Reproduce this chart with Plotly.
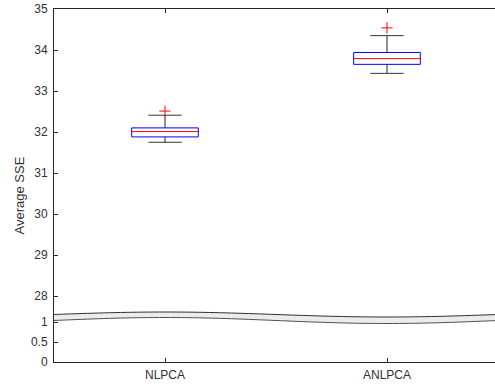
import numpy as np
import plotly.graph_objects as go

categories = ["NLPCA", "ANLPCA"]
positions = [1, 2]
q1 = [31.88, 33.65]
median = [32.01, 33.79]
q3 = [32.10, 33.94]
whisker_low = [31.75, 33.43]
whisker_high = [32.41, 34.35]
outliers = [[32.51], [34.54]]

upper_ticks = [28, 29, 30, 31, 32, 33, 34, 35]
lower_ticks = [0, 0.5, 1]
lower_labels = ["0", "0.5", "1"]

W, H = 495, 387
ML, MT, MB = 54, 9, 25
PH = H - MT - MB
split_px = 317
split = (H - MB - split_px) / PH

half_box = 0.15
half_cap = 0.075
AX = dict(xaxis="x2", yaxis="y2")

fig = go.Figure()
for i, p in enumerate(positions):
    fig.add_trace(go.Scatter(x=[p, p, None, p, p], y=[q3[i], whisker_high[i], None, q1[i], whisker_low[i]],
                             mode="lines", line=dict(color="#222222", width=1), showlegend=False, hoverinfo="skip", **AX))
    fig.add_trace(go.Scatter(x=[p - half_cap, p + half_cap, None, p - half_cap, p + half_cap],
                             y=[whisker_high[i], whisker_high[i], None, whisker_low[i], whisker_low[i]],
                             mode="lines", line=dict(color="#333333", width=1), showlegend=False, hoverinfo="skip", **AX))
    fig.add_trace(go.Scatter(x=[p - half_box, p + half_box, p + half_box, p - half_box, p - half_box],
                             y=[q1[i], q1[i], q3[i], q3[i], q1[i]],
                             mode="lines", line=dict(color="#0000ff", width=1), showlegend=False, hoverinfo="skip", **AX))
    fig.add_trace(go.Scatter(x=[p - half_box, p + half_box], y=[median[i], median[i]],
                             mode="lines", line=dict(color="#ff0000", width=1), showlegend=False, hoverinfo="skip", **AX))
    fig.add_trace(go.Scatter(x=[p] * len(outliers[i]), y=outliers[i], mode="markers",
                             marker=dict(symbol="cross-thin", size=8, line=dict(color="#ff0000", width=1)),
                             showlegend=False, hoverinfo="skip", **AX))

# break band (decoration)
xs = np.linspace(0.5, 2.5, 81)
ph = np.cos(np.pi * (xs - 1))
top_px = 314.5 - 2.5 * ph
bot_px = 320.5 - 3.0 * ph
top_p = (H - MB - top_px) / PH
bot_p = (H - MB - bot_px) / PH

def path(xv, yv, close=False):
    s = "M " + " L ".join(f"{a:.4f},{b:.5f}" for a, b in zip(xv, yv))
    return s + (" Z" if close else "")

shapes = [
    dict(type="path", xref="x", yref="paper", path=path(np.r_[xs, xs[::-1]], np.r_[top_p, bot_p[::-1]], True),
         fillcolor="#ececec", line=dict(width=0), layer="above"),
    dict(type="path", xref="x", yref="paper", path=path(xs, top_p), line=dict(color="#303030", width=1), layer="above"),
    dict(type="path", xref="x", yref="paper", path=path(xs, bot_p), line=dict(color="#505050", width=1), layer="above"),
]

axcol = "#303030"
fam = "Liberation Sans, Arial, sans-serif"
font = dict(family=fam, size=12, color=axcol)
common = dict(showgrid=False, zeroline=False, showline=True, linecolor="#262626", linewidth=1,
              ticks="inside", ticklen=4, tickcolor="#262626", tickfont=font)

xr = [0.5, 0.5 + 2.0 * (W - ML) / 444]
fig.update_layout(
    width=W, height=H, margin=dict(l=ML, r=0, t=MT, b=MB),
    paper_bgcolor="white", plot_bgcolor="white",
    xaxis=dict(domain=[0, 1], anchor="y", range=xr, tickvals=positions, ticktext=categories,
               ticklabelstandoff=2, **common),
    yaxis=dict(domain=[0, split], anchor="x", range=[0, (H - MB - split_px) / 40.0],
               tickvals=lower_ticks, ticktext=lower_labels, ticklabelstandoff=3, **common),
    xaxis2=dict(domain=[0, 1], anchor="y2", matches="x", side="top", tickvals=positions,
                showticklabels=False, **common),
    yaxis2=dict(domain=[split, 1], anchor="x2", range=[35 - (split_px - MT) / 41.0, 35],
                tickvals=upper_ticks, ticklabelstandoff=3, **common),
    shapes=shapes,
    annotations=[dict(text="Average SSE", xref="paper", yref="paper", x=(18.5 - ML) / (W - ML),
                      y=(H - MB - 196) / PH, textangle=-90, showarrow=False, xanchor="center",
                      yanchor="middle", font=dict(family=fam, size=13, color=axcol))],
    showlegend=False,
)

fig.write_html("out.html")
